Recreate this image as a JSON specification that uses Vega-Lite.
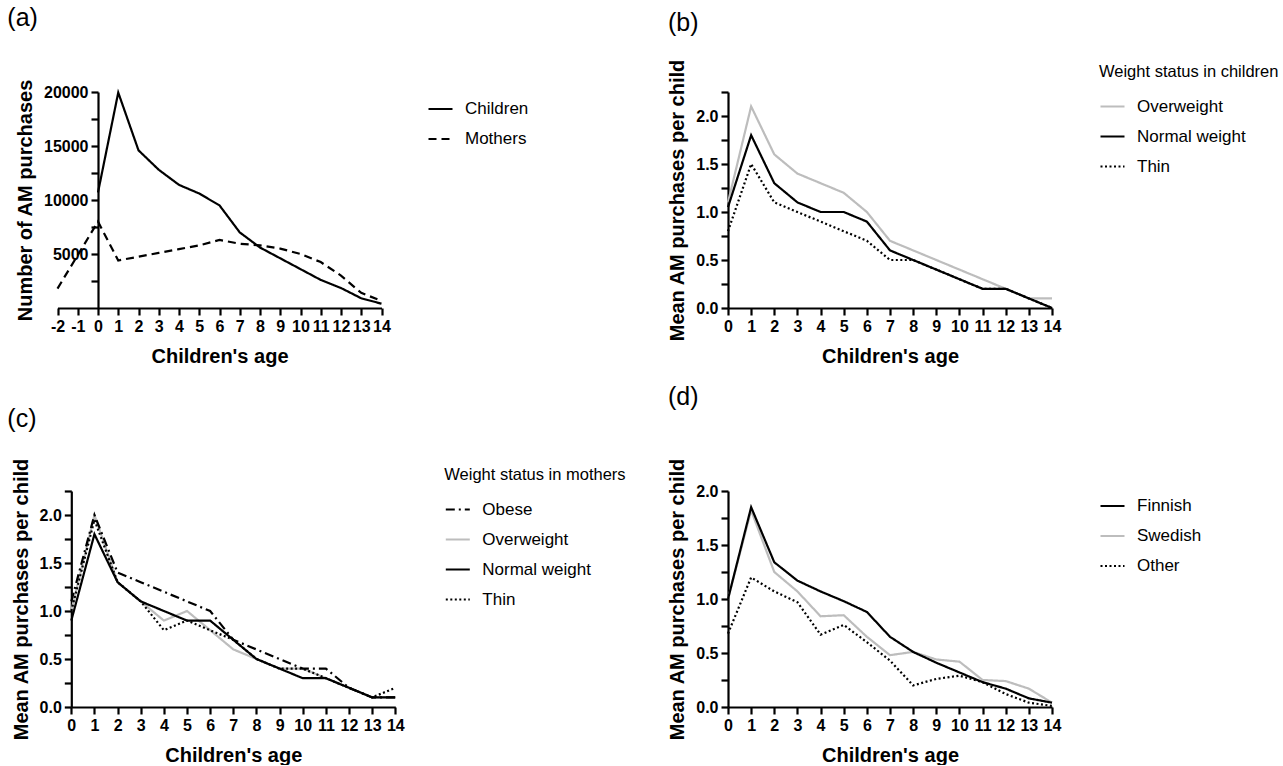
{
 "$schema": "https://vega.github.io/schema/vega-lite/v6.json",
 "padding": {"left": 7, "top": 5, "right": 0, "bottom": 0},
 "background": "white",
 "datasets": {
  "a": [
   {"group":"Mothers","age":-2,"value":1800},{"group":"Mothers","age":-1,"value":4900},{"group":"Mothers","age":0,"value":8000},{"group":"Mothers","age":1,"value":4400},{"group":"Mothers","age":2,"value":4750},{"group":"Mothers","age":3,"value":5100},{"group":"Mothers","age":4,"value":5450},{"group":"Mothers","age":5,"value":5800},{"group":"Mothers","age":6,"value":6300},{"group":"Mothers","age":7,"value":5950},{"group":"Mothers","age":8,"value":5800},{"group":"Mothers","age":9,"value":5500},{"group":"Mothers","age":10,"value":5000},{"group":"Mothers","age":11,"value":4250},{"group":"Mothers","age":12,"value":3000},{"group":"Mothers","age":13,"value":1400},{"group":"Mothers","age":14,"value":650},
   {"group":"Children","age":0,"value":10700},{"group":"Children","age":1,"value":19950},{"group":"Children","age":2,"value":14600},{"group":"Children","age":3,"value":12800},{"group":"Children","age":4,"value":11400},{"group":"Children","age":5,"value":10600},{"group":"Children","age":6,"value":9500},{"group":"Children","age":7,"value":7000},{"group":"Children","age":8,"value":5600},{"group":"Children","age":9,"value":4600},{"group":"Children","age":10,"value":3600},{"group":"Children","age":11,"value":2600},{"group":"Children","age":12,"value":1850},{"group":"Children","age":13,"value":900},{"group":"Children","age":14,"value":400}
  ],
  "b": [
   {"group":"Overweight","age":0,"value":1.1},{"group":"Overweight","age":1,"value":2.1},{"group":"Overweight","age":2,"value":1.6},{"group":"Overweight","age":3,"value":1.4},{"group":"Overweight","age":4,"value":1.3},{"group":"Overweight","age":5,"value":1.2},{"group":"Overweight","age":6,"value":1.0},{"group":"Overweight","age":7,"value":0.7},{"group":"Overweight","age":8,"value":0.6},{"group":"Overweight","age":9,"value":0.5},{"group":"Overweight","age":10,"value":0.4},{"group":"Overweight","age":11,"value":0.3},{"group":"Overweight","age":12,"value":0.2},{"group":"Overweight","age":13,"value":0.1},{"group":"Overweight","age":14,"value":0.1},
   {"group":"Thin","age":0,"value":0.8},{"group":"Thin","age":1,"value":1.5},{"group":"Thin","age":2,"value":1.1},{"group":"Thin","age":3,"value":1.0},{"group":"Thin","age":4,"value":0.9},{"group":"Thin","age":5,"value":0.8},{"group":"Thin","age":6,"value":0.7},{"group":"Thin","age":7,"value":0.5},{"group":"Thin","age":8,"value":0.5},{"group":"Thin","age":9,"value":0.4},{"group":"Thin","age":10,"value":0.3},{"group":"Thin","age":11,"value":0.2},{"group":"Thin","age":12,"value":0.2},{"group":"Thin","age":13,"value":0.1},{"group":"Thin","age":14,"value":0.0},
   {"group":"Normal weight","age":0,"value":1.05},{"group":"Normal weight","age":1,"value":1.8},{"group":"Normal weight","age":2,"value":1.3},{"group":"Normal weight","age":3,"value":1.1},{"group":"Normal weight","age":4,"value":1.0},{"group":"Normal weight","age":5,"value":1.0},{"group":"Normal weight","age":6,"value":0.9},{"group":"Normal weight","age":7,"value":0.6},{"group":"Normal weight","age":8,"value":0.5},{"group":"Normal weight","age":9,"value":0.4},{"group":"Normal weight","age":10,"value":0.3},{"group":"Normal weight","age":11,"value":0.2},{"group":"Normal weight","age":12,"value":0.2},{"group":"Normal weight","age":13,"value":0.1},{"group":"Normal weight","age":14,"value":0.0}
  ],
  "c": [
   {"group":"Overweight","age":0,"value":1.0},{"group":"Overweight","age":1,"value":2.0},{"group":"Overweight","age":2,"value":1.3},{"group":"Overweight","age":3,"value":1.1},{"group":"Overweight","age":4,"value":0.9},{"group":"Overweight","age":5,"value":1.0},{"group":"Overweight","age":6,"value":0.8},{"group":"Overweight","age":7,"value":0.6},{"group":"Overweight","age":8,"value":0.5},{"group":"Overweight","age":9,"value":0.4},{"group":"Overweight","age":10,"value":0.4},{"group":"Overweight","age":11,"value":0.3},{"group":"Overweight","age":12,"value":0.2},{"group":"Overweight","age":13,"value":0.1},{"group":"Overweight","age":14,"value":0.1},
   {"group":"Thin","age":0,"value":1.0},{"group":"Thin","age":1,"value":1.95},{"group":"Thin","age":2,"value":1.3},{"group":"Thin","age":3,"value":1.1},{"group":"Thin","age":4,"value":0.8},{"group":"Thin","age":5,"value":0.9},{"group":"Thin","age":6,"value":0.8},{"group":"Thin","age":7,"value":0.7},{"group":"Thin","age":8,"value":0.5},{"group":"Thin","age":9,"value":0.4},{"group":"Thin","age":10,"value":0.4},{"group":"Thin","age":11,"value":0.3},{"group":"Thin","age":12,"value":0.2},{"group":"Thin","age":13,"value":0.1},{"group":"Thin","age":14,"value":0.2},
   {"group":"Normal weight","age":0,"value":0.9},{"group":"Normal weight","age":1,"value":1.8},{"group":"Normal weight","age":2,"value":1.3},{"group":"Normal weight","age":3,"value":1.1},{"group":"Normal weight","age":4,"value":1.0},{"group":"Normal weight","age":5,"value":0.9},{"group":"Normal weight","age":6,"value":0.9},{"group":"Normal weight","age":7,"value":0.7},{"group":"Normal weight","age":8,"value":0.5},{"group":"Normal weight","age":9,"value":0.4},{"group":"Normal weight","age":10,"value":0.3},{"group":"Normal weight","age":11,"value":0.3},{"group":"Normal weight","age":12,"value":0.2},{"group":"Normal weight","age":13,"value":0.1},{"group":"Normal weight","age":14,"value":0.1},
   {"group":"Obese","age":0,"value":1.1},{"group":"Obese","age":1,"value":2.0},{"group":"Obese","age":2,"value":1.4},{"group":"Obese","age":3,"value":1.3},{"group":"Obese","age":4,"value":1.2},{"group":"Obese","age":5,"value":1.1},{"group":"Obese","age":6,"value":1.0},{"group":"Obese","age":7,"value":0.7},{"group":"Obese","age":8,"value":0.6},{"group":"Obese","age":9,"value":0.5},{"group":"Obese","age":10,"value":0.4},{"group":"Obese","age":11,"value":0.4},{"group":"Obese","age":12,"value":0.2},{"group":"Obese","age":13,"value":0.1},{"group":"Obese","age":14,"value":0.1}
  ],
  "d": [
   {"group":"Swedish","age":0,"value":1.0},{"group":"Swedish","age":1,"value":1.82},{"group":"Swedish","age":2,"value":1.25},{"group":"Swedish","age":3,"value":1.07},{"group":"Swedish","age":4,"value":0.84},{"group":"Swedish","age":5,"value":0.85},{"group":"Swedish","age":6,"value":0.65},{"group":"Swedish","age":7,"value":0.48},{"group":"Swedish","age":8,"value":0.51},{"group":"Swedish","age":9,"value":0.44},{"group":"Swedish","age":10,"value":0.42},{"group":"Swedish","age":11,"value":0.25},{"group":"Swedish","age":12,"value":0.24},{"group":"Swedish","age":13,"value":0.17},{"group":"Swedish","age":14,"value":0.04},
   {"group":"Other","age":0,"value":0.68},{"group":"Other","age":1,"value":1.2},{"group":"Other","age":2,"value":1.07},{"group":"Other","age":3,"value":0.97},{"group":"Other","age":4,"value":0.67},{"group":"Other","age":5,"value":0.76},{"group":"Other","age":6,"value":0.6},{"group":"Other","age":7,"value":0.43},{"group":"Other","age":8,"value":0.2},{"group":"Other","age":9,"value":0.26},{"group":"Other","age":10,"value":0.29},{"group":"Other","age":11,"value":0.23},{"group":"Other","age":12,"value":0.12},{"group":"Other","age":13,"value":0.04},{"group":"Other","age":14,"value":0.01},
   {"group":"Finnish","age":0,"value":1.0},{"group":"Finnish","age":1,"value":1.85},{"group":"Finnish","age":2,"value":1.34},{"group":"Finnish","age":3,"value":1.17},{"group":"Finnish","age":4,"value":1.07},{"group":"Finnish","age":5,"value":0.98},{"group":"Finnish","age":6,"value":0.88},{"group":"Finnish","age":7,"value":0.65},{"group":"Finnish","age":8,"value":0.51},{"group":"Finnish","age":9,"value":0.41},{"group":"Finnish","age":10,"value":0.32},{"group":"Finnish","age":11,"value":0.23},{"group":"Finnish","age":12,"value":0.17},{"group":"Finnish","age":13,"value":0.08},{"group":"Finnish","age":14,"value":0.04}
  ]
 },
 "config": {
  "view": {"stroke": null},
  "font": "Liberation Sans",
  "axis": {"domainColor": "#000", "domainWidth": 2.2, "tickColor": "#000", "tickWidth": 2.2, "tickSize": 7, "labelFont": "Liberation Sans", "labelFontSize": 16, "labelFontWeight": "bold", "labelColor": "#000", "labelPadding": 3, "titleFont": "Liberation Sans", "titleFontSize": 20, "titleFontWeight": "bold", "titleColor": "#000", "grid": false, "labelOverlap": false, "labelFlush": false},
  "axisX": {"titlePadding": 12},
  "axisY": {"titlePadding": 8},
  "legend": {"orient": "none", "symbolType": "stroke", "symbolSize": 576, "symbolStrokeWidth": 2.2, "labelFont": "Liberation Sans", "labelFontSize": 17, "labelColor": "#000", "labelOffset": 11, "rowPadding": 8, "titleFont": "Liberation Sans", "titleFontSize": 16.5, "titleFontWeight": "normal", "titleColor": "#000", "titlePadding": 12.2, "titleLimit": 400, "labelLimit": 300},
  "title": {"font": "Liberation Sans", "fontSize": 25, "fontWeight": "normal", "color": "#000", "anchor": "start", "frame": "group"},
  "line": {"strokeWidth": 2.2, "strokeCap": "butt", "strokeJoin": "miter"}
 },
 "columns": 1,
 "align": "none",
 "spacing": 18,
 "resolve": {"scale": {"color": "independent", "strokeDash": "independent"}, "legend": {"color": "independent", "strokeDash": "independent"}},
 "concat": [
  {"spacing": 138,
   "resolve": {"scale": {"color": "independent", "strokeDash": "independent"}, "legend": {"color": "independent", "strokeDash": "independent"}},
   "hconcat": [
   {
    "title": {"text": "(a)", "dx": -90.7, "offset": 48},
    "width": 283.5, "height": 216,
    "data": {"name": "a"},
    "mark": {"type": "line"},
    "encoding": {
     "x": {"field": "age", "type": "quantitative", "scale": {"domain": [-2, 14], "range": [-40.5, 283.5], "nice": false, "zero": false}, "axis": {"title": "Children's age", "values": [-2,-1,0,1,2,3,4,5,6,7,8,9,10,11,12,13,14], "labelExpr": "'' + datum.value"}},
     "y": {"field": "value", "type": "quantitative", "scale": {"domain": [0, 20000], "nice": false}, "axis": {"title": "Number of AM purchases", "values": [2500,5000,7500,10000,12500,15000,17500,20000], "labelExpr": "datum.value % 5000 === 0 ? '' + datum.value : ''"}},
     "color": {"field": "group", "type": "nominal", "scale": {"domain": ["Children", "Mothers"], "range": ["#000000", "#000000"]}, "legend": {"title": null, "legendX": 329, "legendY": 3.5}},
     "strokeDash": {"field": "group", "type": "nominal", "scale": {"domain": ["Children", "Mothers"], "range": [[1, 0], [8, 5]]}, "legend": {"title": null, "legendX": 329, "legendY": 3.5}}
    }
   },
   {
    "title": {"text": "(b)", "dx": -60, "offset": 23},
    "width": 324, "height": 216,
    "data": {"name": "b"},
    "mark": {"type": "line"},
    "encoding": {
     "x": {"field": "age", "type": "quantitative", "scale": {"domain": [0, 14], "nice": false}, "axis": {"title": "Children's age", "values": [0,1,2,3,4,5,6,7,8,9,10,11,12,13,14], "labelExpr": "'' + datum.value"}},
     "y": {"field": "value", "type": "quantitative", "scale": {"domain": [0, 2.25], "nice": false}, "axis": {"title": "Mean AM purchases per child", "values": [0,0.25,0.5,0.75,1,1.25,1.5,1.75,2,2.25], "labelExpr": "(datum.value * 4) % 2 === 0 ? format(datum.value, '.1f') : ''"}},
     "color": {"field": "group", "type": "nominal", "scale": {"domain": ["Overweight", "Normal weight", "Thin"], "range": ["#bdbdbd", "#000000", "#000000"]}, "legend": {"title": "Weight status in children", "legendX": 371, "legendY": -27.7}},
     "strokeDash": {"field": "group", "type": "nominal", "scale": {"domain": ["Overweight", "Normal weight", "Thin"], "range": [[1, 0], [1, 0], [2, 2.5]]}, "legend": {"title": "Weight status in children", "legendX": 371, "legendY": -27.7}}
    }
   }
  ]},
  {"spacing": 40,
   "resolve": {"scale": {"color": "independent", "strokeDash": "independent"}, "legend": {"color": "independent", "strokeDash": "independent"}},
   "hconcat": [
   {
    "title": {"text": "(c)", "dx": -90.7, "offset": 26},
    "width": 297.3, "height": 216,
    "data": {"name": "c"},
    "mark": {"type": "line"},
    "encoding": {
     "x": {"field": "age", "type": "quantitative", "scale": {"domain": [0, 14], "range": [-26.7, 297.3], "nice": false}, "axis": {"title": "Children's age", "values": [0,1,2,3,4,5,6,7,8,9,10,11,12,13,14], "labelExpr": "'' + datum.value"}},
     "y": {"field": "value", "type": "quantitative", "scale": {"domain": [0, 2.25], "nice": false}, "axis": {"title": "Mean AM purchases per child", "offset": 26.7, "values": [0,0.25,0.5,0.75,1,1.25,1.5,1.75,2,2.25], "labelExpr": "(datum.value * 4) % 2 === 0 ? format(datum.value, '.1f') : ''"}},
     "color": {"field": "group", "type": "nominal", "scale": {"domain": ["Obese", "Overweight", "Normal weight", "Thin"], "range": ["#000000", "#bdbdbd", "#000000", "#000000"]}, "legend": {"title": "Weight status in mothers", "legendX": 346.3, "legendY": -23.7}},
     "strokeDash": {"field": "group", "type": "nominal", "scale": {"domain": ["Obese", "Overweight", "Normal weight", "Thin"], "range": [[9, 4, 2, 4], [1, 0], [1, 0], [2, 2.5]]}, "legend": {"title": "Weight status in mothers", "legendX": 346.3, "legendY": -23.7}}
    }
   },
   {
    "title": {"text": "(d)", "dx": -60, "offset": 48},
    "width": 324, "height": 216,
    "data": {"name": "d"},
    "mark": {"type": "line"},
    "encoding": {
     "x": {"field": "age", "type": "quantitative", "scale": {"domain": [0, 14], "nice": false}, "axis": {"title": "Children's age", "values": [0,1,2,3,4,5,6,7,8,9,10,11,12,13,14], "labelExpr": "'' + datum.value"}},
     "y": {"field": "value", "type": "quantitative", "scale": {"domain": [0, 2], "nice": false}, "axis": {"title": "Mean AM purchases per child", "values": [0,0.25,0.5,0.75,1,1.25,1.5,1.75,2], "labelExpr": "(datum.value * 4) % 2 === 0 ? format(datum.value, '.1f') : ''"}},
     "color": {"field": "group", "type": "nominal", "scale": {"domain": ["Finnish", "Swedish", "Other"], "range": ["#000000", "#bdbdbd", "#000000"]}, "legend": {"title": null, "legendX": 371, "legendY": 1.5}},
     "strokeDash": {"field": "group", "type": "nominal", "scale": {"domain": ["Finnish", "Swedish", "Other"], "range": [[1, 0], [1, 0], [2, 2.5]]}, "legend": {"title": null, "legendX": 371, "legendY": 1.5}}
    }
   }
  ]}
 ]
}
